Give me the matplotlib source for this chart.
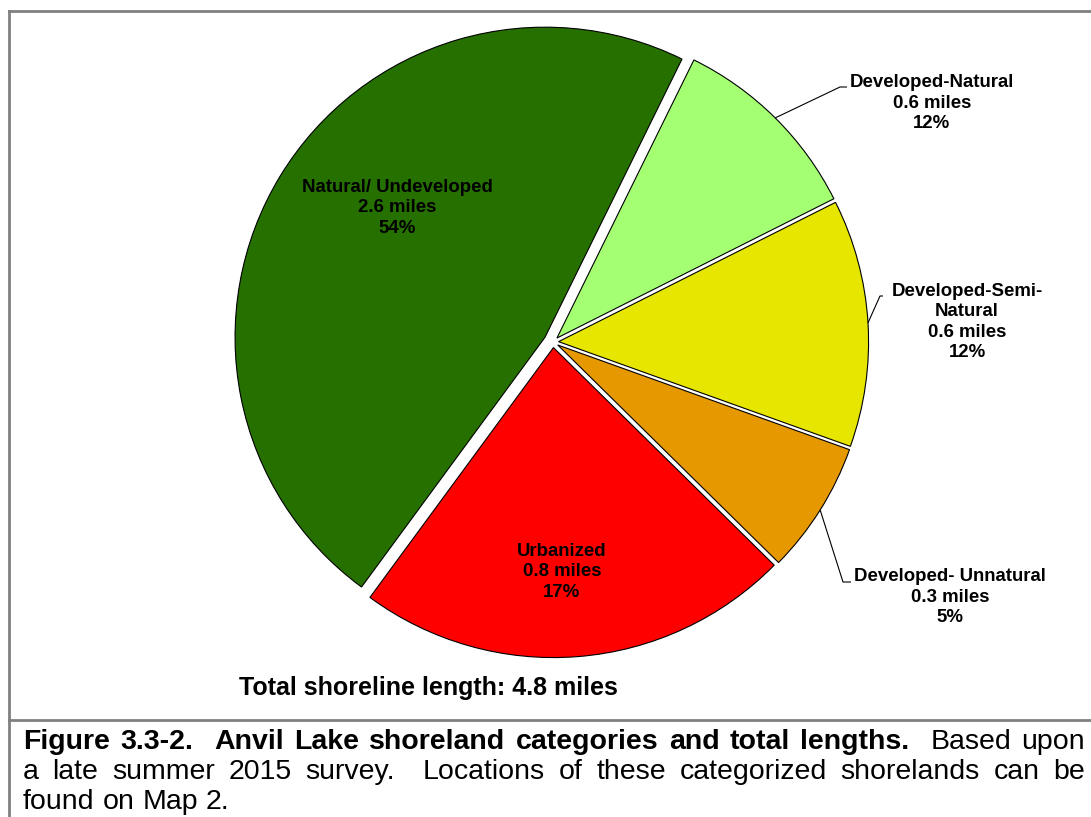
import numpy as np
import matplotlib.pyplot as plt
from matplotlib.lines import Line2D

plt.rcParams['font.family'] = ['Liberation Sans', 'DejaVu Sans']

# slice sizes as drawn (percent of circle), and their labels
categories = ["Natural/ Undeveloped", "Developed-Natural", "Developed-Semi-\nNatural",
              "Developed- Unnatural", "Urbanized"]
shares = [47.2, 10.3, 12.9, 6.9, 22.7]
miles = ["2.6", "0.6", "0.6", "0.3", "0.8"]
pct_labels = ["54%", "12%", "12%", "5%", "17%"]
colors = ["#267000", "#A5FF73", "#E6E600", "#E69800", "#FF0000"]
explode = [0.03, 0.018, 0.018, 0.018, 0.018]

W, H = 1091, 817
fig = plt.figure(figsize=(W / 100, H / 100), dpi=100)

def fx(px):
    return px / W

def fy(py):
    return 1 - py / H

# pie axes: centre (553, 342) px, radius 310 px
cx, cy, R, half = 553, 342, 310, 330
ax = fig.add_axes([fx(cx - half), fy(cy + half), 2 * half / W, 2 * half / H])

wedges, _ = ax.pie(shares, colors=colors, startangle=233.7, counterclock=False,
                   explode=explode, radius=1,
                   wedgeprops=dict(edgecolor='black', linewidth=0.8))
ax.set_xlim(-half / R, half / R)
ax.set_ylim(-half / R, half / R)
ax.set_aspect('equal')
ax.axis('off')

def d(px, py):
    return ((px - cx) / R, (cy - py) / R)

lab_font = dict(fontsize=13.4, fontweight='bold', ha='center', va='center',
                multialignment='center', linespacing=1.25)

# inside labels
for i, pos in [(0, (397, 208)), (4, (562, 572))]:
    ax.text(*d(*pos), f"{categories[i]}\n{miles[i]} miles\n{pct_labels[i]}", **lab_font)

# outside labels with leader lines
outside = {1: ((932, 103), (840, 87), (847, 87)),
           2: ((967, 322), (880, 296), (887, 296)),
           3: ((950, 597), (843, 582), (851, 582))}
for i, (tpos, elbow, end) in outside.items():
    w = wedges[i]
    mid = np.deg2rad((w.theta1 + w.theta2) / 2)
    x0 = w.center[0] + w.r * np.cos(mid)
    y0 = w.center[1] + w.r * np.sin(mid)
    ex, ey = d(*elbow)
    nx, ny = d(*end)
    ax.plot([x0, ex, nx], [y0, ey, ny], color='black', lw=0.8, solid_capstyle='butt')
    ax.text(*d(*tpos), f"{categories[i]}\n{miles[i]} miles\n{pct_labels[i]}", **lab_font)

fig.text(fx(428), fy(688), "Total shoreline length: 4.8 miles", fontsize=18,
         fontweight='bold', ha='center', va='center')

# frame lines
gray = '#808080'
fig.add_artist(Line2D([fx(9), fx(9)], [fy(11), 0], color=gray, lw=2))
fig.add_artist(Line2D([fx(9), 1], [fy(11), fy(11)], color=gray, lw=2))
fig.add_artist(Line2D([fx(9), 1], [fy(720), fy(720)], color=gray, lw=2))

# caption, justified between x_left and x_right
cap_lines = [
    [("Figure 3.3-2.  Anvil Lake shoreland categories and total lengths.", 'bold'),
     ("  Based upon", 'normal')],
    [("a late summer 2015 survey.  Locations of these categorized shorelands can be", 'normal')],
    [("found on Map 2.", 'normal')],
]
baselines = [749, 779, 809]
cap_size = 20.5
x_left, x_right = 23, 1085
renderer = fig.canvas.get_renderer()

for li, (line, base) in enumerate(zip(cap_lines, baselines)):
    tokens = []
    gap = 0
    for text, weight in line:
        for k, part in enumerate(text.split(' ')):
            if k > 0:
                gap += 1
            if part == '':
                continue
            tokens.append((part, weight, gap))
            gap = 0
    widths = []
    for word, weight, _ in tokens:
        t = fig.text(0, 0, word, fontsize=cap_size, fontweight=weight)
        widths.append(t.get_window_extent(renderer).width)
        t.remove()
    n_gaps = sum(g for _, _, g in tokens)
    if li < len(cap_lines) - 1:
        unit = (x_right - x_left - sum(widths)) / n_gaps
    else:
        unit = 0.278 * cap_size * 100 / 72
    x = x_left
    for (word, weight, g), wd in zip(tokens, widths):
        x += g * unit
        fig.text(fx(x), fy(base), word, fontsize=cap_size, fontweight=weight,
                 ha='left', va='baseline')
        x += wd

fig.savefig("out.png", dpi=100)
